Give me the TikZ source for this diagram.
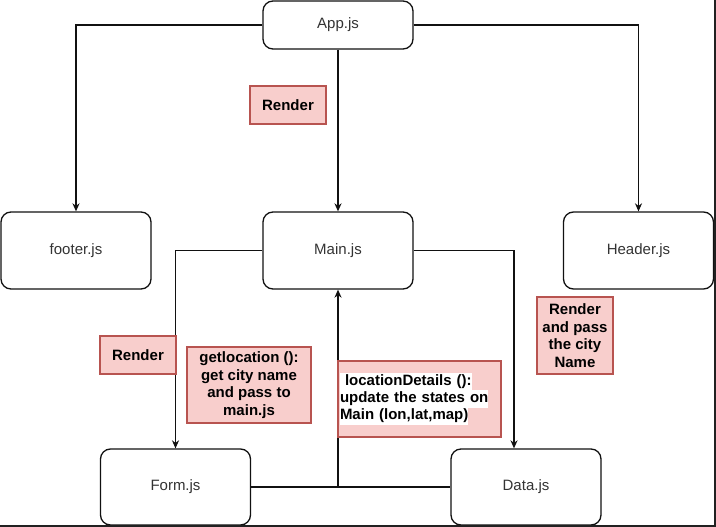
\documentclass[tikz,border=0pt]{standalone}
\usepackage{fontspec}
\setmainfont{Liberation Sans}
\usetikzlibrary{arrows.meta,positioning}
\definecolor{nodetext}{HTML}{333333}
\definecolor{pinkfill}{HTML}{F8CECC}
\definecolor{pinkdraw}{HTML}{B85450}
\definecolor{edgecol}{HTML}{111111}
\tikzset{
  modbox/.style={draw=edgecol, line width=1.3pt, rounded corners=10pt, fill=white,
    minimum width=150pt, inner sep=0pt, text=nodetext, font=\fontsize{15}{18}\selectfont},
  notebox/.style={draw=pinkdraw, line width=1.1pt, fill=pinkfill, inner sep=2pt,
    text=black, font=\fontsize{15}{17.6}\selectfont\bfseries, align=center},
  conn/.style={draw=edgecol, line width=1.3pt, -{Stealth[length=8pt,width=7pt,inset=2.5pt]}},
  plainconn/.style={draw=edgecol, line width=1.3pt}
}
\newcommand{\hl}[1]{{\setlength{\fboxsep}{0pt}\colorbox{white}{\strut #1}}}
\begin{document}
\begin{tikzpicture}[x=1pt,y=-1pt]
\useasboundingbox (0,0) rectangle (716,527);
\fill[white] (0,0) rectangle (716,527);

% modules
\node[modbox, minimum height=48pt] (app) at (338,25) {App.js};
\node[modbox, minimum height=77pt] (main) at (338,250.5) {Main.js};
\node[modbox, minimum height=77pt] (footer) at (76,250.5) {footer.js};
\node[modbox, minimum height=77pt] (header) at (638.5,250.5) {Header.js};
\node[modbox, minimum height=76pt] (form) at (175.5,487) {Form.js};
\node[modbox, minimum height=76pt] (data) at (526,487) {Data.js};

% connectors
\draw[conn] (app.west) -| (footer.north);
\draw[conn] (app.east) -| (header.north);
\draw[conn] (app.south) -- (main.north);
\draw[conn] (main.west) -| (form.north);
\draw[conn] (main.east) -| ([xshift=-12pt]data.north);
\draw[plainconn] (form.east) -- (data.west);
\draw[conn] (form.east) -| (main.south);

% notes
\node[notebox, minimum width=76pt, minimum height=38pt] (r1) at (288,105) {Render};
\node[notebox, minimum width=76pt, minimum height=38pt] (r2) at (138,355) {Render};
\node[notebox, minimum width=124pt, minimum height=76pt] (getloc) at (249,385)
  {getlocation ():\\get city name\\and pass to\\main.js};
\node[notebox, minimum width=163pt, minimum height=76pt, text width=159pt, align=left] (locdet) at (419.5,399)
  {\hl{ locationDetails ():}\\[-0.2pt]\hl{update the states on}\\[-0.2pt]\hl{Main (lon,lat,map)}};
\node[notebox, minimum width=76pt, minimum height=77pt] (rpass) at (575,335.5)
  {Render\\and pass\\the city\\Name};

% frame edges
\fill[black!87] (714,0) rectangle (716,527);
\fill[black!87] (0,525) rectangle (716,527);
\end{tikzpicture}
\end{document}
